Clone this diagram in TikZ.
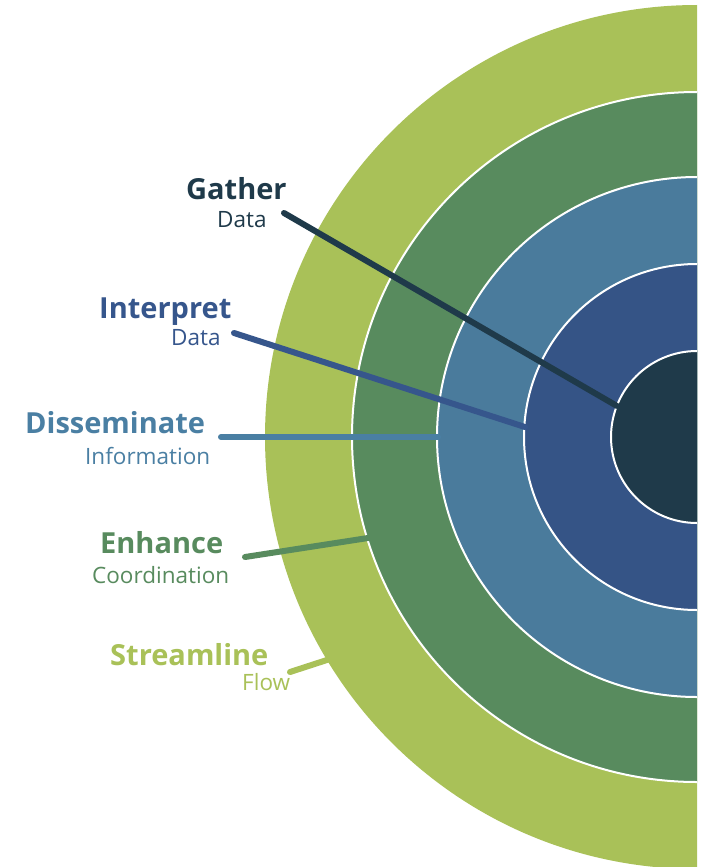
\documentclass[tikz,border=0pt]{standalone}
\usepackage{fontspec}
\setmainfont{Open Sans}
\definecolor{cA}{HTML}{1F3A4A}
\definecolor{cB}{HTML}{355486}
\definecolor{cC}{HTML}{4A7B9C}
\definecolor{cD}{HTML}{588B5E}
\definecolor{cE}{HTML}{A9C158}
\definecolor{tB}{HTML}{36568C}
\definecolor{tC}{HTML}{4A7FA3}
\tikzset{
  ring/.style={draw=white, line width=2pt},
  head/.style={font=\fontsize{29}{29}\selectfont\bfseries, inner sep=0pt, anchor=base west},
  sub/.style={font=\fontsize{22.5}{22.5}\selectfont, inner sep=0pt, anchor=base west},
  lead/.style={line width=6pt, line cap=round},
}
\begin{document}
\begin{tikzpicture}[x=1pt,y=-1pt]
\useasboundingbox (0,0) rectangle (701,867);
\fill[white] (0,0) rectangle (701,867);
\coordinate (O) at (697,437);
\begin{scope}
\clip (0,0) rectangle (697,867);
\fill[cE] (O) circle[radius=432];
\filldraw[ring, fill=cD] (O) circle[radius=345];
\filldraw[ring, fill=cC] (O) circle[radius=260];
\filldraw[ring, fill=cB] (O) circle[radius=173];
\filldraw[ring, fill=cA] (O) circle[radius=86];
\end{scope}
% labels
\node[head, text=cA] (g1) at (186,199) {Gather};
\node[sub, text=cA] (g2) at (217,227) {Data};
\node[head, text=tB] (i1) at (99,318) {Interpret};
\node[sub, text=tB] (i2) at (171,345) {Data};
\node[head, text=tC] (d1) at (25,433) {Disseminate};
\node[sub, text=tC] (d2) at (85,464) {Information};
\node[head, text=cD] (e1) at (100,553) {Enhance};
\node[sub, text=cD] (e2) at (92,583) {Coordination};
\node[head, text=cE] (s1) at (110,665) {Streamline};
\node[sub, text=cE] (s2) at (242,690) {Flow};
% leader lines
\coordinate (ga) at (284,213); \coordinate (gb) at (617,406);
\coordinate (ia) at (234,333); \coordinate (ib) at (525,427);
\coordinate (da) at (221,437); \coordinate (db) at (438,437);
\coordinate (ea) at (245,557); \coordinate (eb) at (368,538);
\coordinate (sa) at (290,672); \coordinate (sb) at (330,659);
\draw[lead, cA] (ga) -- (gb);
\draw[lead, tB] (ia) -- (ib);
\draw[lead, tC] (da) -- (db);
\draw[lead, cD] (ea) -- (eb);
\draw[lead, cE] (sa) -- (sb);
\end{tikzpicture}
\end{document}
